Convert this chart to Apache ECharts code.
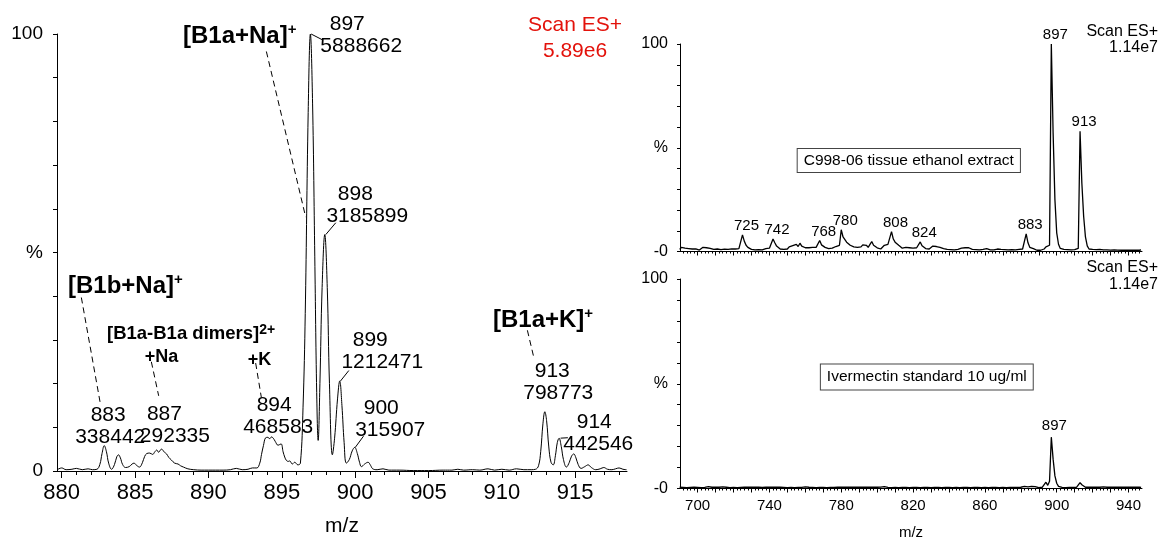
<!DOCTYPE html>
<html>
<head>
<meta charset="utf-8">
<title>ESI+ spectra</title>
<script src="https://cdn.jsdelivr.net/npm/echarts/dist/echarts.min.js"></script>
<style>
  html, body { margin: 0; padding: 0; background: #fff; }
  #chart { width: 1160px; height: 542px; }
</style>
</head>
<body>
<div id="chart"></div>
<script>
// left panel: zoomed profile m/z 880-918, % of base peak (5.89e6)
const leftProfile = [
  [879.7, 0.3], [880.0, 0.7], [880.3, 0.3], [880.7, 0.4], [881.0, 0.6], [881.4, 0.3], [881.8, 0.5], [882.1, 0.3], [882.4, 0.4],
  [882.6, 1.5], [882.75, 4.0], [882.9, 5.8], [883.05, 4.4], [883.2, 1.8], [883.4, 0.4],
  [883.6, 1.5], [883.75, 3.2], [883.87, 3.7], [884.0, 3.0], [884.15, 1.5], [884.35, 0.8],
  [884.6, 1.0], [884.8, 1.6], [884.93, 1.8], [885.1, 1.3], [885.3, 0.9],
  [885.5, 1.9], [885.65, 3.3], [885.8, 4.0], [886.0, 4.1], [886.2, 3.8], [886.35, 4.4], [886.48, 4.8], [886.6, 4.3],
  [886.8, 5.0], [887.0, 4.3], [887.15, 3.9], [887.3, 3.1], [887.48, 2.5], [887.7, 1.8], [887.93, 1.6], [888.1, 1.2],
  [888.3, 0.9], [888.6, 0.5], [889.0, 0.3],
  [889.5, 0.2], [890.0, 0.2], [890.5, 0.2], [891.0, 0.2], [891.5, 0.3], [891.9, 0.6], [892.3, 0.3], [892.7, 0.4],
  [893.0, 0.7], [893.3, 0.7],
  [893.5, 1.8], [893.62, 3.8], [893.75, 5.8], [893.9, 7.6], [894.05, 7.7], [894.18, 7.4], [894.3, 7.8], [894.42, 7.5],
  [894.55, 6.8], [894.75, 5.9], [894.95, 6.2], [895.09, 4.4], [895.2, 3.2], [895.32, 2.4], [895.45, 2.2], [895.54, 2.3],
  [895.72, 1.6], [895.88, 2.0], [896.1, 1.4], [896.27, 1.8],
  [896.45, 14.6], [896.6, 36], [896.8, 82], [896.95, 100], [897.1, 84], [897.25, 49], [897.38, 18], [897.48, 7.0],
  [897.6, 20], [897.75, 42], [897.93, 54.1], [898.1, 42], [898.25, 20], [898.45, 3.7],
  [898.6, 7.5], [898.8, 16.5], [898.95, 20.6], [899.1, 15], [899.25, 6.5], [899.4, 1.8],
  [899.6, 2.6], [899.8, 4.6], [899.97, 5.4], [900.15, 4.0], [900.3, 2.0], [900.43, 1.0],
  [900.65, 1.6], [900.88, 2.0], [901.05, 1.3], [901.2, 0.5], [901.5, 0.3], [901.9, 0.5], [902.3, 0.2],
  [903.0, 0.2], [904.0, 0.1], [905.0, 0.1], [906.0, 0.2], [906.6, 0.2], [907.0, 0.4], [907.4, 0.2], [908.0, 0.3],
  [908.5, 0.2], [909.06, 0.5], [909.5, 0.2], [910.0, 0.4], [910.5, 0.2], [911.0, 0.5], [911.5, 0.3], [912.0, 0.3], [912.3, 0.4],
  [912.5, 1.2], [912.65, 4.5], [912.8, 10.8], [912.93, 13.56], [913.05, 11.5], [913.2, 5.5], [913.35, 2.0], [913.5, 1.4],
  [913.65, 3.5], [913.78, 6.5], [913.9, 7.5], [914.05, 5.6], [914.2, 2.6], [914.4, 0.9],
  [914.6, 2.0], [914.75, 3.4], [914.9, 3.9], [915.05, 3.0], [915.2, 1.5], [915.4, 0.6],
  [915.65, 1.0], [915.88, 1.4], [916.1, 0.8], [916.4, 0.3], [916.7, 0.5], [916.95, 0.8], [917.2, 0.4], [917.5, 0.3],
  [917.75, 0.5], [917.99, 0.7], [918.25, 0.4], [918.5, 0.3]
];
const leftPeakMz = [883, 887, 894, 897, 898, 899, 900, 913, 914];
const leftPeakCounts = [338442, 292335, 468583, 5888662, 3185899, 1212471, 315907, 798773, 442546];
const leftMajorTicks = [880, 885, 890, 895, 900, 905, 910, 915];

// right panels: full scan m/z 690-947, one value per m/z unit, % of 1.14e7
const rightStartMz = 690;
const extractTrace = [
  1.0, 2.0, 1.2, 1.6, 0.8, 1.4, 1.0, 1.2, 0.8, 1.3,
  1.0, 0.7, 1.1, 2.0, 2.8, 1.8, 2.5, 1.5, 2.0, 1.0,
  0.8, 1.2, 0.7, 0.9, 0.6, 1.1, 0.8, 1.0, 0.9, 1.3,
  0.8, 1.2, 0.9, 1.4, 1.0, 8.0, 5.0, 3.0, 2.0, 1.2,
  1.0, 1.4, 0.8, 1.1, 0.9, 1.3, 0.8, 1.0, 1.4, 1.0,
  1.6, 2.2, 6.0, 4.2, 2.6, 1.8, 1.2, 1.4, 1.0, 1.6,
  1.2, 2.2, 1.6, 2.8, 2.0, 3.4, 2.4, 4.0, 2.6, 3.2,
  1.8, 1.4, 1.8, 1.2, 2.0, 2.4, 2.0, 2.8, 5.3, 3.2,
  2.6, 2.0, 1.6, 1.4, 1.2, 1.6, 1.4, 2.4, 2.0, 3.0,
  10.5, 7.0, 6.5, 4.5, 3.8, 3.0, 2.6, 2.2, 2.6, 2.0,
  2.8, 2.2, 3.2, 2.4, 3.0, 2.0, 3.4, 4.8, 3.0, 2.2,
  1.8, 1.4, 1.2, 2.0, 3.0, 2.2, 3.4, 2.8, 9.6, 6.0,
  4.5, 3.6, 3.0, 2.2, 1.6, 1.4, 2.0, 1.4, 1.8, 2.2,
  1.6, 2.2, 1.8, 2.6, 4.6, 2.8, 2.0, 1.4, 1.6, 1.2,
  1.8, 2.6, 2.0, 2.4, 1.6, 2.0, 1.2, 1.4, 0.8, 1.0,
  0.7, 0.9, 0.6, 0.8, 0.6, 1.0, 0.8, 1.6, 1.2, 1.8,
  1.4, 1.8, 1.2, 1.0, 0.7, 0.9, 0.6, 0.8, 0.6, 1.0,
  0.8, 1.4, 1.0, 0.8, 1.2, 0.8, 1.0, 1.2, 0.8, 1.0,
  0.7, 0.9, 0.6, 0.8, 0.7, 0.9, 0.6, 0.8, 0.7, 1.0,
  0.8, 1.2, 2.0, 8.5, 4.2, 2.0, 1.2, 1.4, 0.8, 0.6,
  0.8, 0.6, 0.8, 1.2, 2.2, 1.4, 3.0, 100, 57, 25,
  9.0, 3.5, 1.5, 0.8, 1.0, 0.7, 0.9, 0.6, 0.8, 0.6,
  0.9, 0.8, 1.5, 58, 33, 17, 7.0, 2.7, 1.2, 0.8,
  1.0, 0.7, 0.9, 0.6, 1.0, 1.2, 0.8, 1.4, 0.8, 1.0,
  0.7, 1.0, 0.8, 1.2, 0.7, 0.9, 0.6, 0.8, 0.6, 0.9,
  0.7, 0.8, 0.6, 0.9, 0.7, 0.8, 0.6, 0.8
];
const standardTrace = [
  0.6, 0.9, 0.5, 0.8, 0.4, 0.7, 0.5, 0.8, 0.6, 0.9,
  0.5, 0.8, 0.4, 0.6, 0.5, 0.7, 0.9, 0.5, 0.6, 0.4,
  0.7, 0.5, 0.6, 0.4, 0.8, 0.5, 0.6, 0.7, 0.4, 0.6,
  0.5, 0.7, 0.4, 0.6, 0.5, 0.8, 0.6, 0.4, 0.7, 0.5,
  0.6, 0.4, 0.7, 0.5, 0.6, 0.8, 0.5, 0.4, 0.6, 0.5,
  0.7, 0.5, 0.6, 0.4, 0.7, 0.5, 0.6, 0.8, 0.5, 0.6,
  0.4, 0.7, 0.5, 0.6, 0.4, 0.6, 0.5, 0.7, 0.5, 0.6,
  0.8, 0.5, 0.6, 0.9, 0.5, 0.7, 0.4, 0.6, 0.5, 0.7,
  0.5, 0.6, 0.4, 0.7, 0.5, 0.6, 0.5, 0.8, 0.6, 0.5,
  0.7, 0.5, 0.6, 0.4, 0.6, 0.5, 0.7, 0.4, 0.6, 0.5,
  0.6, 0.4, 0.7, 0.5, 0.6, 0.4, 0.6, 0.5, 0.7, 0.5,
  0.6, 0.4, 0.7, 0.5, 0.9, 0.6, 0.5, 0.7, 0.4, 0.6,
  0.5, 0.7, 0.4, 0.6, 0.5, 0.7, 0.5, 0.6, 0.4, 0.6,
  0.5, 0.7, 0.5, 0.6, 0.4, 0.6, 0.5, 0.7, 0.5, 0.6,
  0.4, 0.6, 0.5, 0.8, 0.5, 0.6, 0.4, 0.7, 0.5, 0.6,
  0.5, 0.7, 0.4, 0.6, 0.5, 0.6, 0.4, 0.7, 0.5, 0.8,
  0.5, 0.6, 0.4, 0.7, 0.5, 0.6, 0.5, 0.7, 0.4, 0.6,
  0.5, 0.7, 0.4, 0.6, 0.5, 0.8, 0.5, 0.6, 0.4, 0.7,
  0.5, 0.6, 0.4, 0.7, 0.5, 0.6, 0.5, 0.7, 0.5, 0.8,
  0.6, 0.7, 1.0, 1.5, 0.8, 0.6, 1.0, 1.4, 0.9, 0.5,
  0.4, 0.5, 0.6, 1.5, 3.0, 1.5, 3.5, 24.5, 14, 6,
  2.5, 1.0, 0.6, 0.5, 0.7, 0.4, 0.6, 0.5, 0.7, 0.5,
  0.6, 0.5, 0.8, 2.8, 1.8, 1.0, 0.6, 0.5, 0.7, 0.5,
  0.6, 0.4, 0.7, 0.5, 0.6, 0.5, 0.8, 0.5, 0.6, 0.4,
  0.7, 0.5, 0.6, 0.4, 0.7, 0.5, 0.6, 0.5, 0.7, 0.4,
  0.6, 0.5, 0.7, 0.4, 0.6, 0.5, 0.7, 0.5
];
const extractPeakMz = [725, 742, 768, 780, 808, 824, 883, 897, 913];
const standardPeakMz = [897];
const rightLabelTicks = [700, 740, 780, 820, 860, 900, 940];

const FONT = '"Liberation Sans", Arial, Helvetica, sans-serif';

// tick positions (ticks, not data)
const leftMinorTicks = [];
for (let m = 880; m <= 918; m++) leftMinorTicks.push(m);
const rightMidTicks = [];
for (let m = 690; m <= 940; m += 10) rightMidTicks.push(m);
const rightMinorTicks = [];
for (let m = 692; m <= 946; m += 2) rightMinorTicks.push(m);

// label placement for left peaks: [dx, dy, left shift of m/z line]
const leftLabelLayout = [
  [5, -19, 4], [11, -23.5, 21], [11.6, -19.4, 8], [50.6, 1.5, 28], [42, -28.8, 24],
  [42.3, -29.6, 24], [35.6, -28.2, 18], [12.9, -28.8, 12], [38.2, -4.6, 8]
];
// short solid leaders from apex to label, in axis units (index: [dMz, dPct])
const leftLeaders = { 3: [0.81, -1.4], 4: [0.68, 2.7], 5: [0.57, 2.4], 6: [0.57, 2.6], 8: [0.5, 0.1] };

// compound annotations: text drawn as graphic, dashed leader in axis units
const dashedLeaders = [
  [[893.95, 96.0], [896.63, 58.1]],
  [[881.34, 39.7], [882.63, 15.5]],
  [[886.11, 25.0], [886.61, 17.2]],
  [[893.22, 24.7], [893.61, 16.8]],
  [[911.74, 32.2], [912.17, 26.1]]
];

const basePeak = Math.max(...leftPeakCounts);
const leftPeakData = leftPeakMz.map((mz, i) => {
  const lay = leftLabelLayout[i];
  return {
    value: [mz, leftPeakCounts[i] / basePeak * 100],
    label: {
      offset: [lay[0], lay[1]],
      formatter: '{m|' + mz + '}\n{v|' + leftPeakCounts[i] + '}',
      rich: {
        m: { fontFamily: FONT, fontSize: 21, lineHeight: 22, color: '#000', opacity: 1, padding: [0, lay[2], 0, 0] },
        v: { fontFamily: FONT, fontSize: 21, lineHeight: 22, color: '#000', opacity: 1 }
      }
    }
  };
});

const leaderLines = [];
Object.keys(leftLeaders).forEach(k => {
  const p = leftPeakData[k].value;
  const d = leftLeaders[k];
  leaderLines.push([
    { coord: [p[0], p[1]], lineStyle: { color: '#000', width: 1, type: 'solid' } },
    { coord: [p[0] + d[0], p[1] + d[1]] }
  ]);
});
dashedLeaders.forEach(seg => {
  leaderLines.push([
    { coord: seg[0], lineStyle: { color: '#000', width: 1, type: [6, 4] } },
    { coord: seg[1] }
  ]);
});

function tracePoints(trace) {
  return trace.map((v, i) => [rightStartMz + i, v]);
}
function peakPoints(trace, list) {
  return list.map(mz => [mz, trace[mz - rightStartMz]]);
}

function pctFormatter(zero) {
  return v => (v === 0 ? zero : v === 50 ? '%' : v === 100 ? '100' : '');
}

function yAxisFor(grid, fontSize, margin, tickLen, zero) {
  return {
    gridIndex: grid, type: 'value', min: 0, max: 100, interval: 10,
    axisLine: { show: true, lineStyle: { color: '#000', width: 1 } },
    axisTick: { show: true, length: tickLen, lineStyle: { color: '#000' } },
    axisLabel: { formatter: pctFormatter(zero), fontSize: fontSize, fontFamily: FONT, color: '#000', margin: margin },
    splitLine: { show: false }
  };
}

function rightPeakSeries(xi, yi, trace, list, dist, dx) {
  return {
    type: 'scatter', xAxisIndex: xi, yAxisIndex: yi, data: peakPoints(trace, list),
    symbolSize: 1, silent: true, itemStyle: { color: '#000', opacity: 0 },
    label: {
      show: true, position: 'top', distance: dist, offset: [dx, 0], opacity: 1,
      formatter: p => String(p.value[0]), fontSize: 15, fontFamily: FONT, color: '#000', textBorderWidth: 0
    }
  };
}

const leftRange = { min: 879.68, max: 918.53 };
const rightRange = { min: 690.2, max: 947.5 };

const option = {
  animation: false,
  backgroundColor: '#fff',
  grid: [
    { left: 57, top: 34, width: 570, height: 444 },
    { left: 680, top: 44, width: 462, height: 207.5 },
    { left: 680, top: 279, width: 462, height: 209.5 }
  ],
  xAxis: [
    {
      gridIndex: 0, type: 'value', position: 'bottom', min: leftRange.min, max: leftRange.max,
      axisLine: { onZero: false, lineStyle: { color: '#000', width: 1 } },
      axisTick: { customValues: leftMajorTicks, length: 7, lineStyle: { color: '#000' } },
      axisLabel: { customValues: leftMajorTicks, fontSize: 22, fontFamily: FONT, color: '#000', margin: 11 },
      splitLine: { show: false },
      name: 'm/z', nameLocation: 'middle', nameGap: 45,
      nameTextStyle: { fontSize: 21, fontFamily: FONT, color: '#000' }
    },
    {
      gridIndex: 0, type: 'value', position: 'bottom', min: leftRange.min, max: leftRange.max,
      axisLine: { show: false, onZero: false },
      axisTick: { customValues: leftMinorTicks, length: 4, lineStyle: { color: '#000' } },
      axisLabel: { show: false }, splitLine: { show: false }
    },
    {
      gridIndex: 1, type: 'value', position: 'bottom', min: rightRange.min, max: rightRange.max,
      axisLine: { onZero: false, lineStyle: { color: '#000', width: 1 } },
      axisTick: { customValues: rightMidTicks, length: 4, lineStyle: { color: '#000' } },
      axisLabel: { show: false }, splitLine: { show: false }
    },
    {
      gridIndex: 1, type: 'value', position: 'bottom', min: rightRange.min, max: rightRange.max,
      axisLine: { show: false, onZero: false },
      axisTick: { customValues: rightMinorTicks, length: 2, lineStyle: { color: '#000' } },
      axisLabel: { show: false }, splitLine: { show: false }
    },
    {
      gridIndex: 2, type: 'value', position: 'bottom', min: rightRange.min, max: rightRange.max,
      axisLine: { onZero: false, lineStyle: { color: '#000', width: 1 } },
      axisTick: { customValues: rightMidTicks, length: 4, lineStyle: { color: '#000' } },
      axisLabel: { customValues: rightLabelTicks, fontSize: 15, fontFamily: FONT, color: '#000', margin: 10 },
      splitLine: { show: false },
      name: 'm/z', nameLocation: 'middle', nameGap: 37,
      nameTextStyle: { fontSize: 15, fontFamily: FONT, color: '#000' }
    },
    {
      gridIndex: 2, type: 'value', position: 'bottom', min: rightRange.min, max: rightRange.max,
      axisLine: { show: false, onZero: false },
      axisTick: { customValues: rightMinorTicks, length: 2, lineStyle: { color: '#000' } },
      axisLabel: { show: false }, splitLine: { show: false }
    }
  ],
  yAxis: [
    yAxisFor(0, 19, 14, 4, '0'),
    yAxisFor(1, 16, 12, 3, '-0'),
    yAxisFor(2, 16, 12, 3, '-0')
  ],
  series: [
    {
      type: 'line', xAxisIndex: 0, yAxisIndex: 0, data: leftProfile,
      showSymbol: false, smooth: 0.4, silent: true,
      lineStyle: { color: '#000', width: 1 }
    },
    {
      type: 'scatter', xAxisIndex: 0, yAxisIndex: 0, data: leftPeakData,
      symbolSize: 1, silent: true, itemStyle: { color: '#000', opacity: 0 },
      label: {
        show: true, position: [0, 0], align: 'center', verticalAlign: 'middle',
        color: '#000', opacity: 1, textBorderWidth: 0, fontFamily: FONT, fontSize: 21
      },
      markLine: { silent: true, symbol: ['none', 'none'], label: { show: false }, data: leaderLines }
    },
    {
      type: 'line', xAxisIndex: 2, yAxisIndex: 1, data: tracePoints(extractTrace),
      showSymbol: false, silent: true, lineStyle: { color: '#000', width: 1.3 }
    },
    rightPeakSeries(2, 1, extractTrace, extractPeakMz, 1, 4),
    {
      type: 'line', xAxisIndex: 4, yAxisIndex: 2, data: tracePoints(standardTrace),
      showSymbol: false, silent: true, lineStyle: { color: '#000', width: 1.3 }
    },
    rightPeakSeries(4, 2, standardTrace, standardPeakMz, 3, 3)
  ],
  graphic: []
};

// annotation texts
const supRich = (size, sup) => ({
  b: { fontFamily: FONT, fontWeight: 'bold', fontSize: size, lineHeight: size + 4, color: '#000' },
  s: { fontFamily: FONT, fontWeight: 'bold', fontSize: sup, lineHeight: sup, verticalAlign: 'top', color: '#000' }
});
function addText(x, y, text, style) {
  option.graphic.push({ type: 'text', x: x, y: y, silent: true, style: Object.assign({ text: text }, style) });
}
addText(183, 22, '{b|[B1a+Na]}{s|+}', { rich: supRich(24, 15), verticalAlign: 'top' });
addText(68, 272, '{b|[B1b+Na]}{s|+}', { rich: supRich(24, 15), verticalAlign: 'top' });
addText(107, 323, '{b|[B1a-B1a dimers]}{s|2+}', { rich: supRich(18.5, 14), verticalAlign: 'top' });
addText(161.5, 357.5, '+Na', { fontFamily: FONT, fontWeight: 'bold', fontSize: 18, fill: '#000', align: 'center', verticalAlign: 'middle' });
addText(259.5, 360, '+K', { fontFamily: FONT, fontWeight: 'bold', fontSize: 18, fill: '#000', align: 'center', verticalAlign: 'middle' });
addText(493, 306, '{b|[B1a+K]}{s|+}', { rich: supRich(24, 15), verticalAlign: 'top' });
addText(575, 12, 'Scan ES+\n5.89e6', { fontFamily: FONT, fontSize: 21, lineHeight: 26, fill: '#e3120b', align: 'center', verticalAlign: 'top' });
addText(1158, 23, 'Scan ES+\n1.14e7', { fontFamily: FONT, fontSize: 16, lineHeight: 16.5, fill: '#000', align: 'right', verticalAlign: 'top' });
addText(1158, 258.5, 'Scan ES+\n1.14e7', { fontFamily: FONT, fontSize: 16, lineHeight: 17.5, fill: '#000', align: 'right', verticalAlign: 'top' });
addText(908.8, 160.5, 'C998-06 tissue ethanol extract', {
  fontFamily: FONT, fontSize: 15.5, fill: '#000', align: 'center', verticalAlign: 'middle',
  borderColor: '#444', borderWidth: 1, padding: [4, 6, 3, 6], backgroundColor: '#fff'
});
addText(926.8, 377, 'Ivermectin standard 10 ug/ml', {
  fontFamily: FONT, fontSize: 15.5, fill: '#000', align: 'center', verticalAlign: 'middle',
  borderColor: '#444', borderWidth: 1, padding: [5, 6, 4, 6], backgroundColor: '#fff'
});

const chart = echarts.init(document.getElementById('chart'));
chart.setOption(option);
</script>
</body>
</html>
